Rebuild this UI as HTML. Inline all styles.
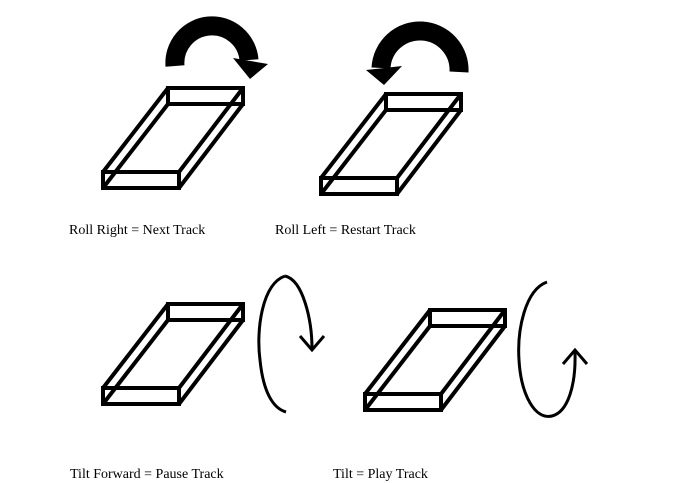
<!DOCTYPE html>
<html><head><style>
body{margin:0;background:#fff;width:695px;height:482px;overflow:hidden;position:relative;font-family:"Liberation Serif",serif;font-size:14px;color:#000}
.t{position:absolute;white-space:nowrap}
</style></head><body>
<svg width="695" height="482" style="position:absolute;left:0;top:0" fill="none" stroke="#000" stroke-width="4" stroke-linejoin="miter">
<g>
<rect x="103" y="172" width="76" height="16"/>
<rect x="168" y="88" width="75" height="16"/>
<path d="M103 172L168 88M103 188L168 104M179 172L243 88M179 188L243 104"/>
</g>
<g transform="translate(218,6)"><rect x="103" y="172" width="76" height="16"/>
<rect x="168" y="88" width="75" height="16"/>
<path d="M103 172L168 88M103 188L168 104M179 172L243 88M179 188L243 104"/></g>
<g transform="translate(0,216)"><rect x="103" y="172" width="76" height="16"/>
<rect x="168" y="88" width="75" height="16"/>
<path d="M103 172L168 88M103 188L168 104M179 172L243 88M179 188L243 104"/></g>
<g transform="translate(262,222)"><rect x="103" y="172" width="76" height="16"/>
<rect x="168" y="88" width="75" height="16"/>
<path d="M103 172L168 88M103 188L168 104M179 172L243 88M179 188L243 104"/></g>
<path d="M175 66A37 37 0 0 1 249 60" stroke-width="19"/>
<polygon points="233,58 268,64 250,79" fill="#000" stroke="none"/>
<path d="M459 72A39 39 0 0 0 381 68" stroke-width="19"/>
<polygon points="366,70 402,66 384,85" fill="#000" stroke="none"/>
<g stroke-width="3">
<path d="M285 276C262 284 256 330 260 360C263 390 272 408 286 412"/>
<path d="M285 276C303 280 312 320 312 349"/>
<path d="M300 336L312 350L324 336"/>
<path d="M547 282C525 290 517 330 519 360C521 395 535 420 552 416C568 412 576 385 575 352"/>
<path d="M563 364L575 350L587 364"/>
</g>
</svg>
<div class="t" style="left:69px;top:223px">Roll Right = Next Track</div>
<div class="t" style="left:275px;top:223px">Roll Left = Restart Track</div>
<div class="t" style="left:70px;top:467px">Tilt Forward = Pause Track</div>
<div class="t" style="left:333px;top:467px">Tilt = Play Track</div>
</body></html>
